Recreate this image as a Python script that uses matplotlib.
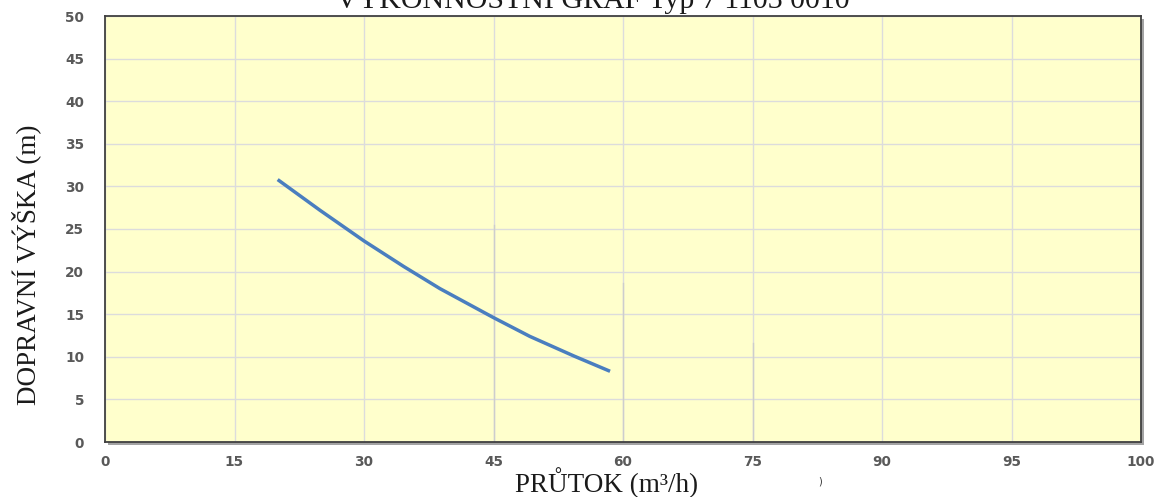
import matplotlib
matplotlib.use("Agg")
import matplotlib.pyplot as plt
from matplotlib.patches import Rectangle

# Data
flow = [20.0, 24.9, 30.0, 34.6, 38.8, 45.0, 49.2, 54.3, 58.5]
head = [30.8, 27.2, 23.6, 20.6, 18.0, 14.6, 12.4, 10.1, 8.3]
x_tick_labels = ["0", "15", "30", "45", "60", "75", "90", "95", "100"]
y_ticks = [0, 5, 10, 15, 20, 25, 30, 35, 40, 45, 50]
title = "VÝKONNOSTNÍ GRAF Typ 7 1103 0010"
xlabel = "PRŮTOK (m³/h)"
ylabel = "DOPRAVNÍ VÝŠKA (m)"

W, H = 1157, 497
fig = plt.figure(figsize=(W / 100, H / 100), dpi=100)
fig.patch.set_facecolor("white")
l, r, b, t = 105 / W, 1141 / W, 1 - 442 / H, 1 - 16 / H
ax = fig.add_axes([l, b, r - l, t - b])

# shadow
fig.patches.append(Rectangle((l + 3 / W, b - 3 / H), r - l, t - b, transform=fig.transFigure,
                             facecolor="#8c8c8c", edgecolor="none", zorder=0, alpha=0.8))
ax.set_zorder(1)
ax.set_facecolor("#FFFFCC")

x_positions = [i * 15 for i in range(len(x_tick_labels))]
ax.set_xlim(0, x_positions[-1])
ax.set_ylim(0, 50)
ax.set_xticks(x_positions)
ax.set_xticklabels(x_tick_labels)
ax.set_yticks(y_ticks)
ax.grid(True, color="#DCDCDC", linewidth=1.0)
ax.set_axisbelow(True)
# slightly darker partial grid segments seen in the reference
for xp, top in [(45, 0.51), (60, 0.373), (75, 0.232)]:
    ax.axvline(xp, ymin=0, ymax=top, color="#CDCDCD", linewidth=1.0, zorder=0.6)
ax.tick_params(length=0, labelsize=9.8, colors="#595959")
ax.tick_params(axis="x", pad=9)
ax.tick_params(axis="y", pad=15)
for lab in ax.get_xticklabels() + ax.get_yticklabels():
    lab.set_fontweight("bold")
    lab.set_family("DejaVu Sans")
for s in ax.spines.values():
    s.set_color("#404040")
    s.set_linewidth(1.3)

ax.plot(flow, head, color="#4A7EBF", linewidth=2.5, solid_capstyle="butt",
        solid_joinstyle="round", zorder=3)

serif = ["Liberation Serif", "DejaVu Serif"]
fig.text(593 / W, 1 - 8 / H, title, ha="center", va="baseline", fontsize=21.5, family=serif, color="#1a1a1a")
fig.text(607 / W, 1 - 492 / H, xlabel, ha="center", va="baseline", fontsize=19.5, family=serif, color="#1a1a1a")
fig.text(26 / W, 1 - 265 / H, ylabel, ha="center", va="center", rotation=90, fontsize=19.5, family=serif, color="#1a1a1a")
fig.text(820 / W, 1 - 482 / H, ")", ha="center", va="center", fontsize=7, color="#333333")

fig.savefig("out.png", dpi=100)
